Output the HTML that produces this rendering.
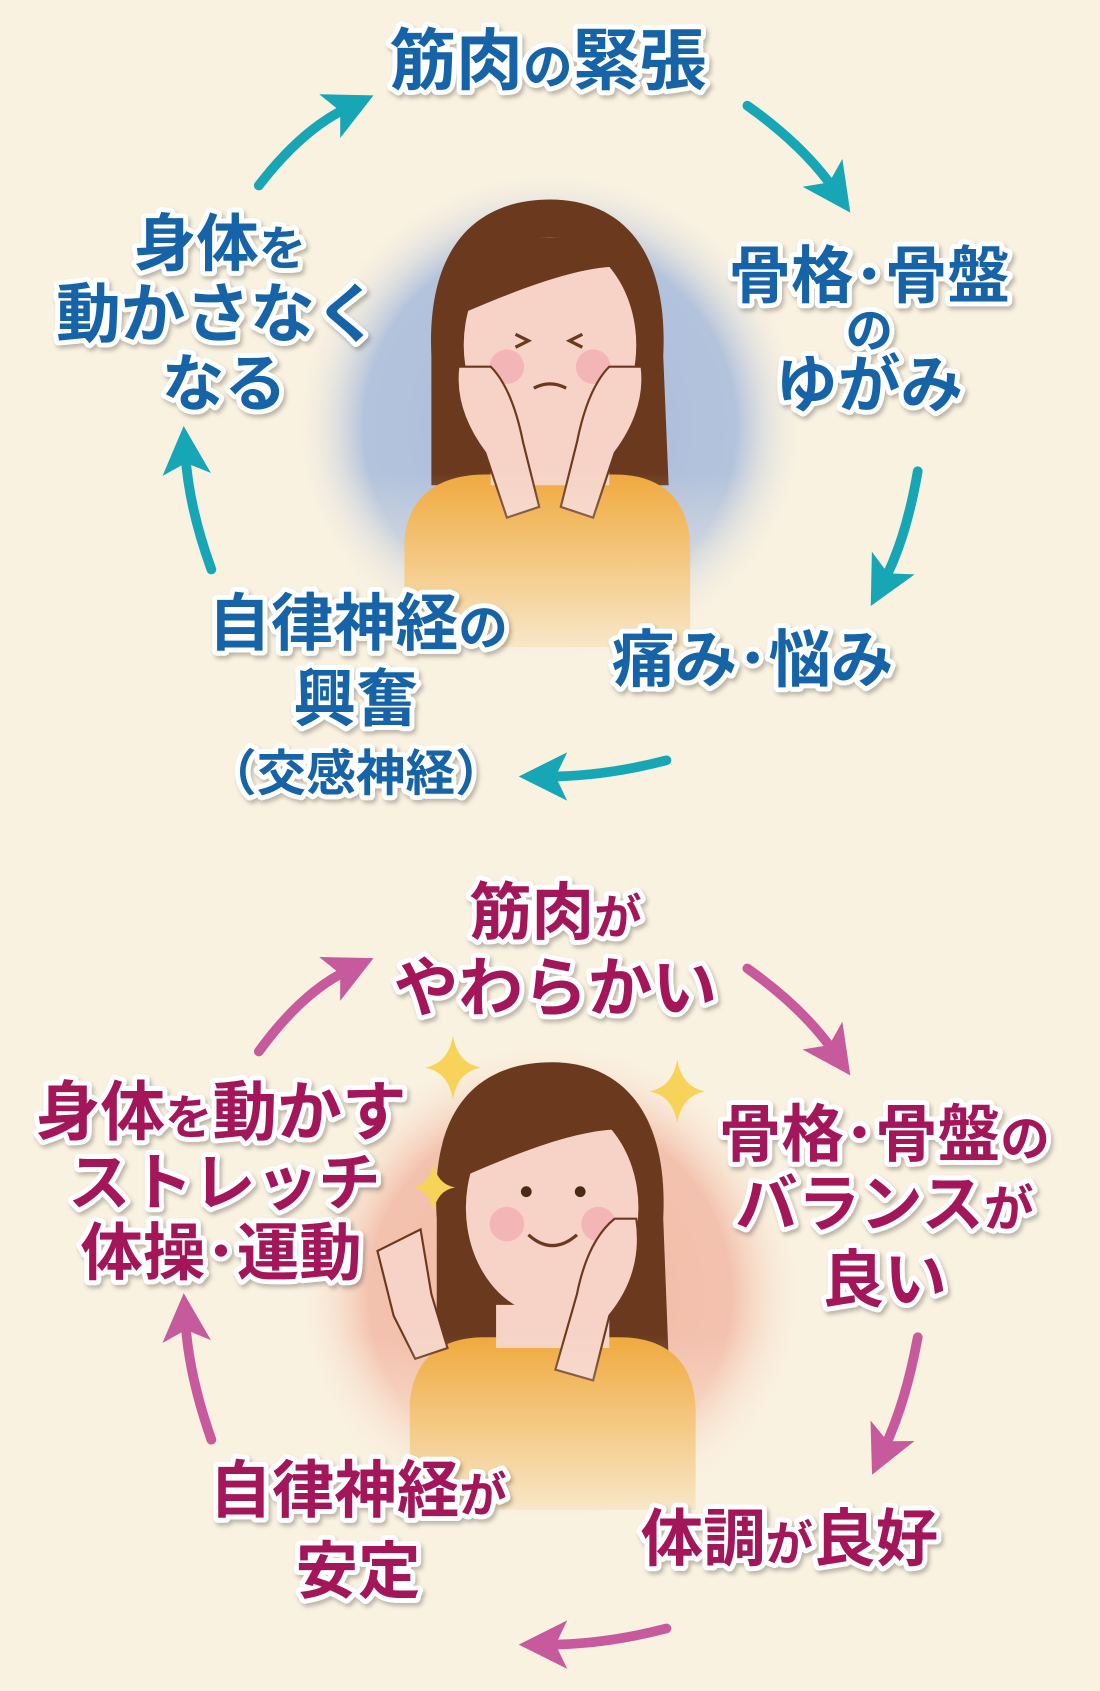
<!DOCTYPE html>
<html><head><meta charset="utf-8"><style>
html,body{margin:0;padding:0;background:#faf2e1;}
svg{display:block}
text{font-family:"Liberation Sans","Noto Sans CJK JP",sans-serif;font-weight:700;paint-order:stroke;stroke:#fff;stroke-width:9;stroke-linejoin:round;text-anchor:middle}
.b{fill:#1464a8}
.m{fill:#a3165a}
</style></head><body>
<svg width="1100" height="1691" viewBox="0 0 1020 1568" preserveAspectRatio="none" xmlns="http://www.w3.org/2000/svg">
<defs>
<radialGradient id="gb" cx="50%" cy="50%" r="50%">
<stop offset="0" stop-color="#a9bbdc"/><stop offset="0.72" stop-color="#b4c3dc"/><stop offset="1" stop-color="#faf2e1" stop-opacity="0"/></radialGradient>
<radialGradient id="gp" cx="50%" cy="50%" r="50%">
<stop offset="0" stop-color="#f2b9a6"/><stop offset="0.7" stop-color="#f3c2ae"/><stop offset="1" stop-color="#faf2e1" stop-opacity="0"/></radialGradient>
<linearGradient id="fade" x1="0" y1="0" x2="0" y2="1"><stop offset="0.6" stop-color="#faf2e1" stop-opacity="0"/><stop offset="1" stop-color="#faf2e1"/></linearGradient>
<filter id="sh"><feDropShadow dx="2" dy="3" stdDeviation="2" flood-color="#000" flood-opacity="0.25"/></filter>
<marker id="at" markerWidth="5" markerHeight="5" refX="2" refY="2.5" orient="auto"><path d="M0,0 L5,2.5 L0,5 L1.2,2.5z" fill="#17a6b6"/></marker>
<marker id="am" markerWidth="5" markerHeight="5" refX="2" refY="2.5" orient="auto"><path d="M0,0 L5,2.5 L0,5 L1.2,2.5z" fill="#c65a9c"/></marker>
</defs>
<rect width="1020" height="1568" fill="#faf2e1"/>

<circle cx="510" cy="395" r="240" fill="url(#gb)"/>
<g>
<path d="M400,330 C395,220 450,185 510,185 C575,185 620,230 615,330 L620,450 L400,450Z" fill="#6b3a1e"/>
<path d="M375,500 C380,450 420,440 450,440 L570,440 C610,440 640,460 640,510 L640,600 L375,600Z" fill="#f0a93d"/>
<path d="M455,415 L455,450 L565,450 L565,415Z" fill="#f6d3c6"/>
<ellipse cx="510" cy="320" rx="80" ry="100" fill="#f6d3c6"/>
<path d="M430,270 C450,210 540,205 590,250 C560,240 500,260 430,290Z" fill="#6b3a1e"/>
<circle cx="470" cy="340" r="16" fill="#f3a8b0" opacity="0.7"/><circle cx="550" cy="340" r="16" fill="#f3a8b0" opacity="0.7"/>
<path d="M478,310 l12,6 -12,6 M540,310 l-12,6 12,6 M495,360 q15,-8 30,0" stroke="#6b3a1e" stroke-width="3" fill="none"/>
<path d="M425,340 q-5,40 25,80 l20,60 l30,-10 l-15,-60 q-10,-50 -30,-70z M595,340 q5,40 -25,80 l-20,60 l-30,-10 l15,-60 q10,-50 30,-70z" fill="#f6d3c6" stroke="#6b3a1e" stroke-width="2"/>
<rect x="270" y="150" width="480" height="480" fill="url(#fade)"/>
</g>

<g fill="none" stroke="#17a6b6" stroke-width="9" stroke-linecap="round">
<path d="M240,172 Q280,120 322,100" marker-end="url(#at)"/>
<path d="M693,98 Q745,135 773,175" marker-end="url(#at)"/>
<path d="M851,437 Q840,500 820,538" marker-end="url(#at)"/>
<path d="M618,705 Q560,720 508,720" marker-end="url(#at)"/>
<path d="M196,528 Q175,470 172,422" marker-end="url(#at)"/>
</g>

<g class="b" filter="url(#sh)">
<text x="508" y="78" font-size="62">筋肉<tspan font-size="46">の</tspan>緊張</text>
<text x="806" y="276" font-size="58">骨格･骨盤</text>
<text x="806" y="322" font-size="44">の</text>
<text x="806" y="377" font-size="58">ゆがみ</text>
<text x="698" y="632" font-size="58">痛み･悩み</text>
<text x="332" y="598" font-size="58">自律神経<tspan font-size="46">の</tspan></text>
<text x="330" y="668" font-size="58">興奮</text>
<text x="330" y="733" font-size="46">（交感神経）</text>
<text x="204" y="246" font-size="58">身体<tspan font-size="44">を</tspan></text>
<text x="202" y="312" font-size="60">動かさなく</text>
<text x="208" y="376" font-size="58">なる</text>
</g>

<circle cx="510" cy="1200" r="240" fill="url(#gp)"/>
<g>
<path d="M405,1130 C398,1020 450,985 512,985 C575,985 620,1030 615,1130 L620,1260 L405,1260Z" fill="#6b3a1e"/>
<path d="M380,1300 C385,1250 420,1240 450,1240 L575,1240 C615,1240 645,1260 645,1310 L645,1400 L380,1400Z" fill="#f0a93d"/>
<path d="M460,1210 L460,1250 L565,1250 L565,1210Z" fill="#f6d3c6"/>
<ellipse cx="512" cy="1120" rx="80" ry="100" fill="#f6d3c6"/>
<path d="M432,1070 C455,1005 545,1005 595,1050 C560,1040 500,1060 432,1090Z" fill="#6b3a1e"/>
<circle cx="470" cy="1135" r="16" fill="#f3a8b0" opacity="0.7"/><circle cx="555" cy="1135" r="16" fill="#f3a8b0" opacity="0.7"/>
<circle cx="488" cy="1105" r="5" fill="#4a2a14"/><circle cx="538" cy="1105" r="5" fill="#4a2a14"/>
<path d="M490,1145 q22,20 45,0" stroke="#6b3a1e" stroke-width="3" fill="none"/>
<path d="M590,1130 q8,50 -25,90 l-15,60 l-35,-10 l20,-70 q10,-50 35,-70z" fill="#f6d3c6" stroke="#6b3a1e" stroke-width="2"/>
<path d="M350,1160 l15,60 l20,40 l30,-10 l-15,-50 l-10,-60z" fill="#f6d3c6" stroke="#6b3a1e" stroke-width="2"/>
<rect x="270" y="950" width="480" height="480" fill="url(#fade)"/>
</g>
<g fill="#f8d35a">
<path d="M420,960 q4,26 26,30 q-22,4 -26,30 q-4,-26 -26,-30 q22,-4 26,-30z"/>
<path d="M628,982 q4,26 26,30 q-22,4 -26,30 q-4,-26 -26,-30 q22,-4 26,-30z"/>
<path d="M402,1078 q3,20 20,23 q-17,3 -20,23 q-3,-20 -20,-23 q17,-3 20,-23z"/>
</g>

<g fill="none" stroke="#c65a9c" stroke-width="9" stroke-linecap="round">
<path d="M240,975 Q280,920 322,900" marker-end="url(#am)"/>
<path d="M693,898 Q745,935 773,975" marker-end="url(#am)"/>
<path d="M851,1240 Q840,1300 820,1343" marker-end="url(#am)"/>
<path d="M618,1510 Q560,1525 508,1525" marker-end="url(#am)"/>
<path d="M196,1335 Q175,1275 172,1226" marker-end="url(#am)"/>
</g>

<g class="m" filter="url(#sh)">
<text x="515" y="866" font-size="58">筋肉<tspan font-size="44">が</tspan></text>
<text x="515" y="937" font-size="60">やわらかい</text>
<text x="820" y="1072" font-size="58">骨格･骨盤<tspan font-size="46">の</tspan></text>
<text x="820" y="1137" font-size="58">バランス<tspan font-size="46">が</tspan></text>
<text x="820" y="1207" font-size="58">良い</text>
<text x="732" y="1447" font-size="58">体調<tspan font-size="44">が</tspan>良好</text>
<text x="332" y="1402" font-size="58">自律神経<tspan font-size="44">が</tspan></text>
<text x="332" y="1477" font-size="58">安定</text>
<text x="205" y="1052" font-size="60">身体<tspan font-size="44">を</tspan>動かす</text>
<text x="208" y="1117" font-size="58">ストレッチ</text>
<text x="205" y="1182" font-size="58">体操･運動</text>
</g>
</svg>
</body></html>
